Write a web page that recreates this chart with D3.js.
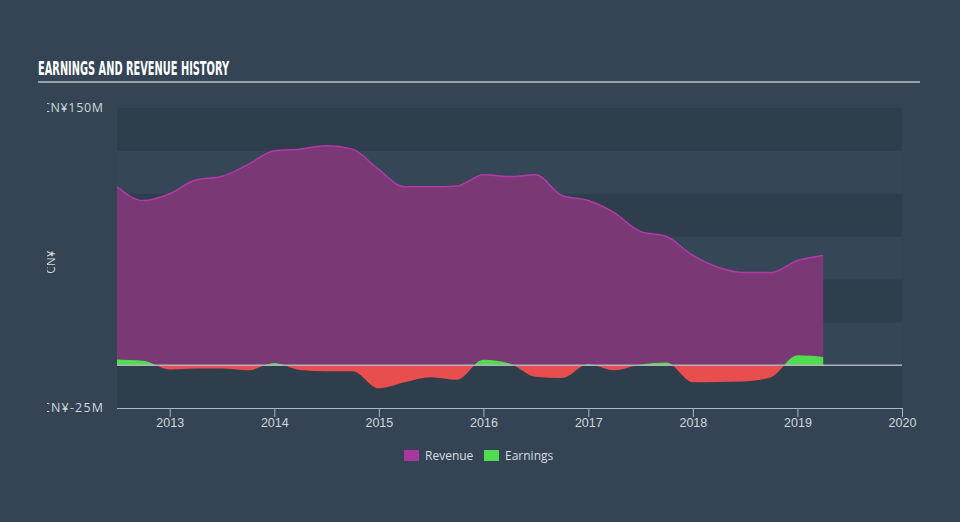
<!DOCTYPE html>
<html>
<head>
<meta charset="utf-8">
<script src="https://cdn.jsdelivr.net/npm/d3@7"></script>
<style>
  html, body { margin: 0; padding: 0; background: #344454; }
  svg { display: block; font-family: "Open Sans", "DejaVu Sans", sans-serif; }
</style>
</head>
<body>
<svg id="chart" width="960" height="522"></svg>
<script>
// quarterly history, CN¥ millions
const quarters = ["2012-07", "2012-10", "2013-01", "2013-04", "2013-07", "2013-10",
  "2014-01", "2014-04", "2014-07", "2014-10", "2015-01", "2015-04", "2015-07", "2015-10",
  "2016-01", "2016-04", "2016-07", "2016-10", "2017-01", "2017-04", "2017-07", "2017-10",
  "2018-01", "2018-04", "2018-07", "2018-10", "2019-01", "2019-04"];
const revenue = [104, 96, 100, 108, 110, 117, 125, 126, 128, 126, 114, 104, 104, 104.5,
  111, 110, 111, 99, 96, 89, 78, 75, 64, 57, 54, 54, 61, 64];
const earnings = [3.3, 2.5, -2.5, -2, -2, -3, 1.2, -2.8, -3.5, -3.5, -13.5, -10, -7, -8.5,
  3.2, 1, -6.8, -7.5, 0.5, -3, 0.3, 1.5, -10, -9.8, -9.5, -7, 5.8, 4.8];
const yearTicks = [2013, 2014, 2015, 2016, 2017, 2018, 2019, 2020];
const yTickLabels = ["CN¥150M", "CN¥-25M"];
const yTickValues = [150, -25];

const parse = d3.timeParse("%Y-%m");
const rows = quarters.map((q, i) => ({ date: parse(q), rev: revenue[i], earn: earnings[i] }));

const svg = d3.select("#chart");
const plotL = 117, plotR = 902, plotT = 108, plotB = 408;

const x = d3.scaleTime()
  .domain([new Date(2012, 6, 1), new Date(2020, 0, 1)])
  .range([plotL, plotR]);
const y = d3.scaleLinear().domain([-25, 150]).range([plotB, plotT]);

const defs = svg.append("defs");
defs.append("clipPath").attr("id", "above")
  .append("rect").attr("x", plotL).attr("y", 0).attr("width", plotR - plotL).attr("height", y(0));
defs.append("clipPath").attr("id", "below")
  .append("rect").attr("x", plotL).attr("y", y(0)).attr("width", plotR - plotL).attr("height", 200);
defs.append("clipPath").attr("id", "labelclip")
  .append("rect").attr("x", 47).attr("y", 0).attr("width", 913).attr("height", 522);

// title
svg.append("text")
  .attr("x", 38).attr("y", 75)
  .attr("fill", "#ffffff")
  .style("font-family", "'Liberation Sans Narrow', 'DejaVu Sans Condensed', sans-serif")
  .style("font-weight", "bold")
  .style("font-size", "20px")
  .attr("textLength", 191).attr("lengthAdjust", "spacingAndGlyphs")
  .text("EARNINGS AND REVENUE HISTORY");
svg.append("line")
  .attr("x1", 38).attr("x2", 920).attr("y1", 82).attr("y2", 82)
  .attr("stroke", "#b8c0c8").attr("stroke-width", 1.5);

// background bands every 25M
const bands = d3.range(-25, 150, 25);
svg.append("g").selectAll("rect")
  .data(bands)
  .join("rect")
  .attr("x", plotL).attr("width", plotR - plotL)
  .attr("y", d => y(d + 25)).attr("height", d => y(d) - y(d + 25))
  .attr("fill", d => ((d / 25) % 2 === 0) ? "#354657" : "#2f3e4d");

// revenue
const curve = d3.curveMonotoneX;
const revArea = d3.area().curve(curve)
  .x(d => x(d.date)).y0(y(0)).y1(d => y(d.rev));
const revLine = d3.line().curve(curve)
  .x(d => x(d.date)).y(d => y(d.rev));
svg.append("path").datum(rows).attr("d", revArea).attr("fill", "#7a3875");
svg.append("path").datum(rows).attr("d", revLine)
  .attr("fill", "none").attr("stroke", "#b13aa8").attr("stroke-width", 1.5);

// earnings, green above zero and red below
const earnArea = d3.area().curve(curve)
  .x(d => x(d.date)).y0(y(0)).y1(d => y(d.earn));
svg.append("path").datum(rows).attr("d", earnArea)
  .attr("fill", "#4fdc4f").attr("clip-path", "url(#above)");
svg.append("path").datum(rows).attr("d", earnArea)
  .attr("fill", "#e84e4e").attr("clip-path", "url(#below)");

// zero line
svg.append("line")
  .attr("x1", plotL).attr("x2", plotR).attr("y1", y(0)).attr("y2", y(0))
  .attr("stroke", "#b0b4b8").attr("stroke-width", 1.5);

// x axis
const xAxis = d3.axisBottom(x)
  .tickValues(yearTicks.map(yr => new Date(yr, 0, 1)))
  .tickFormat(d3.timeFormat("%Y"))
  .tickSize(10).tickSizeOuter(0);
const gx = svg.append("g").attr("transform", `translate(0,${plotB})`).call(xAxis);
gx.select(".domain").attr("stroke", "#a9b7c6").attr("d", `M${plotL},0.5H${plotR}`);
gx.selectAll(".tick line").attr("stroke", "#a9b7c6").attr("y1", 0).attr("y2", 9);
gx.selectAll(".tick text").attr("fill", "#d0d6dc").attr("dy", "0.5em")
  .style("font-size", "12.5px");

// y labels (clipped at left edge like the original)
const gy = svg.append("g").attr("clip-path", "url(#labelclip)");
gy.selectAll("text.ylab")
  .data(yTickValues)
  .join("text")
  .attr("class", "ylab")
  .attr("x", 103).attr("y", d => y(d) + 4)
  .attr("text-anchor", "end")
  .attr("fill", "#d0d6dc").style("font-size", "12.5px")
  .attr("textLength", 61).attr("lengthAdjust", "spacing")
  .text((d, i) => yTickLabels[i]);
gy.append("text")
  .attr("transform", "translate(55,262) rotate(-90)")
  .attr("text-anchor", "middle")
  .attr("fill", "#d0d6dc").style("font-size", "12px")
  .text("CN¥");

// legend
const legend = svg.append("g").attr("transform", "translate(404,450)");
const items = [{ name: "Revenue", color: "#a8389e" }, { name: "Earnings", color: "#4fdc4f" }];
const li = legend.selectAll("g").data(items).join("g")
  .attr("transform", (d, i) => `translate(${i * 80},0)`);
li.append("rect").attr("width", 15).attr("height", 11).attr("fill", d => d.color);
li.append("text").attr("x", 21).attr("y", 10)
  .attr("fill", "#d8dde2").style("font-size", "12px")
  .text(d => d.name);
</script>
</body>
</html>
